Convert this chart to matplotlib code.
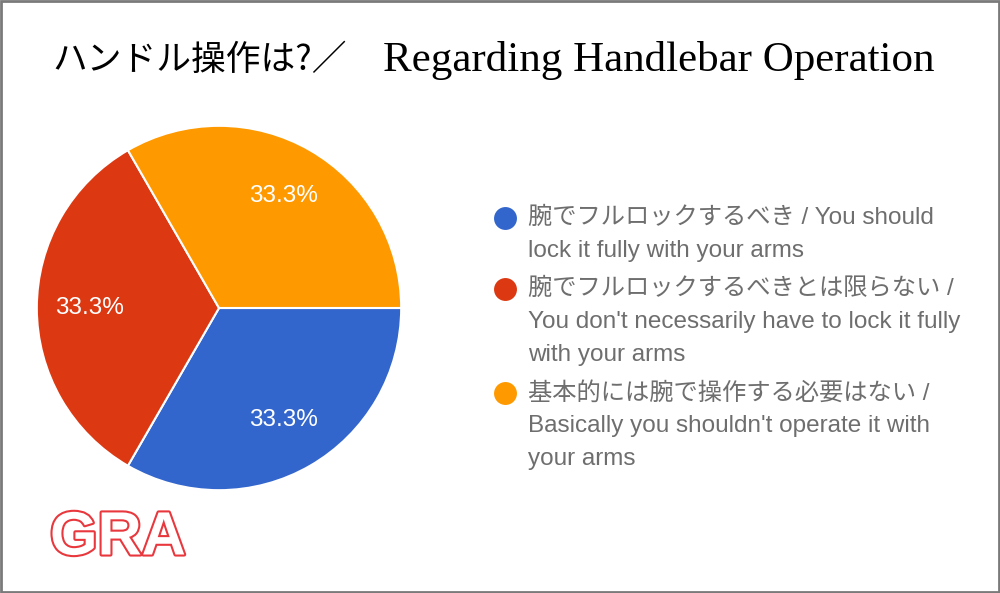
import matplotlib
matplotlib.use("Agg")
import matplotlib.pyplot as plt
from matplotlib.patches import Rectangle
import matplotlib.patheffects as pe

# ---- data ----
title_jp = "ハンドル操作は?／"
title_en = "Regarding Handlebar Operation"
categories = [
    "腕でフルロックするべき / You should\nlock it fully with your arms",
    "腕でフルロックするべきとは限らない /\nYou don't necessarily have to lock it fully\nwith your arms",
    "基本的には腕で操作する必要はない /\nBasically you shouldn't operate it with\nyour arms",
]
values = [1, 1, 1]
colors = ["#3366cc", "#dc3912", "#ff9900"]
logo_text = "GRA"

W, H = 1000, 593
fig = plt.figure(figsize=(W / 100, H / 100), dpi=100)
fig.patch.set_facecolor("white")

# frame
fig.add_artist(Rectangle((0.001, 0.0015), 0.998, 0.997, transform=fig.transFigure,
                         fill=False, edgecolor="#7a7a7a", linewidth=2))

# title
fig.text(52 / W, 1 - 60 / H, title_jp, fontsize=25, family=["Noto Sans CJK JP"],
         va="center", ha="left", color="black")
fig.text(383 / W, 1 - 60 / H, title_en, fontsize=31, family=["Liberation Serif"],
         va="center", ha="left", color="black")

# pie
cx, cy, r = 219, 308, 184
ax = fig.add_axes([(cx - r) / W, (H - cy - r) / H, 2 * r / W, 2 * r / H])
wedges, texts, autotexts = ax.pie(
    values, colors=colors, startangle=0, counterclock=False,
    autopct="%1.1f%%", pctdistance=0.71,
    wedgeprops=dict(edgecolor="white", linewidth=1.5),
    textprops=dict(color="white", fontsize=17.5, family=["Liberation Sans"]))
ax.set_xlim(-1.01, 1.01)
ax.set_ylim(-1.01, 1.01)
ax.set_aspect("equal")
ax.axis("off")

# legend (manual, multi-line)
y = 218
line_h = 33
for lab, col in zip(categories, colors):
    fig.add_artist(plt.Line2D([505 / W], [1 - y / H], marker="o", markersize=16.5,
                              color=col, markeredgewidth=0, transform=fig.transFigure))
    lines = lab.split("\n")
    for i, ln in enumerate(lines):
        fig.text(528 / W, 1 - (y + i * line_h) / H, ln, fontsize=17.5,
                 family=["Liberation Sans", "Noto Sans CJK JP"], color="#6e6e6e",
                 va="center", ha="left")
    y += len(lines) * line_h + 5

# logo
t = fig.text(50 / W, 1 - 539 / H, logo_text, fontsize=44, fontweight="bold",
             family=["Liberation Sans"], color="white", va="center", ha="left")
t.set_path_effects([pe.Stroke(linewidth=3, foreground="#e8383d"), pe.Normal()])

fig.savefig("out.png", dpi=100)
